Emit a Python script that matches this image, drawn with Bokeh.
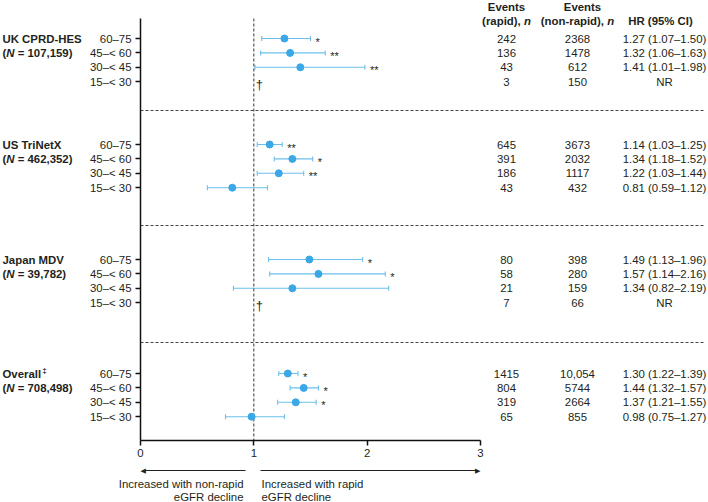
from bokeh.plotting import figure
from bokeh.models import Range1d, FixedTicker, ColumnDataSource, Span, Whisker, TeeHead
from bokeh.core.properties import value
from bokeh.embed import file_html
from bokeh.resources import INLINE

# ---------------- data ----------------
cohorts = ["UK CPRD-HES", "US TriNetX", "Japan MDV", "Overall"]
cohort_n = ["107,159", "462,352", "39,782", "708,498"]
cohort_mark = ["", "", "", "‡"]
age_groups = ["60–75", "45–< 60", "30–< 45", "15–< 30"]

hr = [[1.27, 1.32, 1.41, None],
      [1.14, 1.34, 1.22, 0.81],
      [1.49, 1.57, 1.34, None],
      [1.30, 1.44, 1.37, 0.98]]
ci_lo = [[1.07, 1.06, 1.01, None],
         [1.03, 1.18, 1.03, 0.59],
         [1.13, 1.14, 0.82, None],
         [1.22, 1.32, 1.21, 0.75]]
ci_hi = [[1.50, 1.63, 1.98, None],
         [1.25, 1.52, 1.44, 1.12],
         [1.96, 2.16, 2.19, None],
         [1.39, 1.57, 1.55, 1.27]]
events_rapid = [[242, 136, 43, 3],
                [645, 391, 186, 43],
                [80, 58, 21, 7],
                [1415, 804, 319, 65]]
events_nonrapid = [[2368, 1478, 612, 150],
                   [3673, 2032, 1117, 432],
                   [398, 280, 159, 66],
                   [10054, 5744, 2664, 855]]
significance = [["*", "**", "**", ""],
                ["**", "*", "**", ""],
                ["*", "*", "", ""],
                ["*", "*", "*", ""]]
x_ticks = [0, 1, 2, 3]
left_note = ["Increased with non-rapid", "eGFR decline"]
right_note = ["Increased with rapid", "eGFR decline"]

# ---------------- layout ----------------
W, H = 708, 502
FL, FR = 140, 3
AXIS_BOT = 440
FB = H - AXIS_BOT
PXU = 340 / 3.0                  # px per HR unit
FS = 11.4                        # font size px
FSS = f"{FS}px"
FONT = "Liberation Sans"
TXT = "#231f20"
LINE_C = "#6cbfec"
DOT_C = "#3aa7e6"


def X(px):
    """pixel x -> HR units"""
    return (px - FL) / PXU


group_top = [38, 144, 259, 373]
row_step = 14.4
sep_y = [110, 225, 342]
axis_top = 18

p = figure(width=W, height=H, x_range=Range1d(0, (W - FL - FR) / PXU),
           y_range=Range1d(AXIS_BOT, 0), output_backend="svg",
           toolbar_location=None, min_border_left=FL, min_border_right=FR,
           min_border_top=0, min_border_bottom=FB)
p.outline_line_color = None
p.grid.visible = False
p.background_fill_color = "white"
p.border_fill_color = "white"

# rows
ys, labels = [], []
pt = dict(y=[], hr=[], lo=[], hi=[], sig=[])
tab = dict(y=[], r=[], nr=[], hrtxt=[])
dag = dict(y=[])
for g in range(len(cohorts)):
    for r in range(len(age_groups)):
        y = round(group_top[g] + r * row_step, 1)
        ys.append(y)
        labels.append(age_groups[r])
        er, en = events_rapid[g][r], events_nonrapid[g][r]
        tab["y"].append(y)
        tab["r"].append(f"{er:,}" if er >= 10000 else str(er))
        tab["nr"].append(f"{en:,}" if en >= 10000 else str(en))
        if hr[g][r] is None:
            tab["hrtxt"].append("NR")
            dag["y"].append(y)
        else:
            tab["hrtxt"].append(f"{hr[g][r]:.2f} ({ci_lo[g][r]:.2f}–{ci_hi[g][r]:.2f})")
            pt["y"].append(y)
            pt["hr"].append(hr[g][r])
            pt["lo"].append(ci_lo[g][r])
            pt["hi"].append(ci_hi[g][r])
            pt["sig"].append(significance[g][r])

src = ColumnDataSource(pt)

# axes
xa = p.xaxis[0]
xa.ticker = FixedTicker(ticks=x_ticks)
xa.bounds = (x_ticks[0], x_ticks[-1])
ya = p.yaxis[0]
ya.ticker = FixedTicker(ticks=ys)
ya.major_label_overrides = {y: l for y, l in zip(ys, labels)}
ya.bounds = (axis_top, AXIS_BOT)
for ax in (xa, ya):
    ax.axis_line_width = 1.5
    ax.axis_line_color = "#111111"
    ax.major_tick_line_width = 1.5
    ax.major_tick_line_color = "#111111"
    ax.major_tick_in = 0
    ax.major_tick_out = 5
    ax.minor_tick_in = 0
    ax.minor_tick_out = 0
    ax.major_label_text_font = FONT
    ax.major_label_text_font_size = FSS
    ax.major_label_text_color = TXT
xa.major_label_standoff = 3
ya.major_label_standoff = 4

# reference line and separators
p.segment(x0=[1], y0=[axis_top], x1=[1], y1=[AXIS_BOT], line_color="#333333",
          line_width=1, line_dash="3 2")
for sy in sep_y:
    p.add_layout(Span(location=sy, dimension="width", line_color="#444444",
                      line_width=1, line_dash="3 2"))

# CI bars
p.add_layout(Whisker(source=src, base="y", lower="lo", upper="hi", dimension="width",
                     line_color=LINE_C, line_width=1.1,
                     lower_head=TeeHead(size=5, line_color=LINE_C, line_width=1.1),
                     upper_head=TeeHead(size=5, line_color=LINE_C, line_width=1.1)))
p.scatter(x="hr", y="y", source=src, size=7, fill_color=DOT_C, line_color=DOT_C)


def txt(x, y, text, align="left", bold=False, italic=False, size=FSS, xo=0, yo=0,
        color=TXT, font=FONT):
    style = "bold italic" if bold and italic else ("bold" if bold else ("italic" if italic else "normal"))
    r = p.text(x=x, y=y, text=text, text_align=align, text_baseline="middle",
               text_font=value(font), text_font_size=size, text_font_style=style,
               text_color=color, x_offset=xo, y_offset=yo)
    r.level = "overlay"
    return r


# significance stars
txt(x=pt["hi"], y=pt["y"], text=pt["sig"], size="11px", xo=5, yo=3)
# daggers
txt(x=[1] * len(dag["y"]), y=dag["y"], text=["†"] * len(dag["y"]), size="13px", xo=2, yo=3)

# group labels
em = FS / 1000.0
gx = X(2)
for g in range(len(cohorts)):
    y0 = group_top[g]
    txt([gx], [y0], [cohorts[g]], bold=True)
    if cohort_mark[g]:
        txt([gx], [y0 - 3], [cohort_mark[g]], bold=True, size="8px", xo=3391 * em + 1)
    y1 = y0 + row_step
    txt([gx], [y1], ["("], bold=True)
    txt([gx], [y1], ["N"], bold=True, italic=True, xo=333 * em)
    txt([gx], [y1], [f"= {cohort_n[g]})"], bold=True, xo=(333 + 722 + 278) * em)

# table
cr, cn, ch = X(506), X(577), X(664)
txt([cr] * len(tab["y"]), tab["y"], tab["r"], align="center")
txt([cn] * len(tab["y"]), tab["y"], tab["nr"], align="center")
txt([ch] * len(tab["y"]), tab["y"], tab["hrtxt"], align="center")

h1, h2 = 6.5, 20
txt([cr], [h1], ["Events"], align="center", bold=True)
txt([X(582)], [h1], ["Events"], align="center", bold=True)
w1 = (3667 + 611) * em
txt([cr], [h2], ["(rapid),"], bold=True, xo=-w1 / 2)
txt([cr], [h2], ["n"], bold=True, italic=True, xo=-w1 / 2 + 3667 * em)
w2 = (5833 + 611) * em
txt([cn], [h2], ["(non-rapid),"], bold=True, xo=-w2 / 2)
txt([cn], [h2], ["n"], bold=True, italic=True, xo=-w2 / 2 + 5833 * em)
txt([X(660)], [h2], ["HR (95% CI)"], align="center", bold=True)

# arrows and notes
ay = 470
ARC = "#222222"
ar = p.segment(x0=[X(245), X(260)], y0=[ay, ay], x1=[x_ticks[0] + 0.02, x_ticks[-1] - 0.02],
               y1=[ay, ay], line_color=ARC, line_width=1.2)
ar.level = "overlay"
txt([x_ticks[0]], [ay], ["◀"], align="left", size="7px", color=ARC, font="DejaVu Sans", yo=0.5)
txt([x_ticks[-1]], [ay], ["▶"], align="right", size="7px", color=ARC, font="DejaVu Sans", yo=0.5)
ny = [483, 496.5]
txt([X(243)] * 2, ny, left_note, align="right")
txt([X(261)] * 2, ny, right_note, align="left")

open("out.html", "w").write(file_html(p, INLINE))
